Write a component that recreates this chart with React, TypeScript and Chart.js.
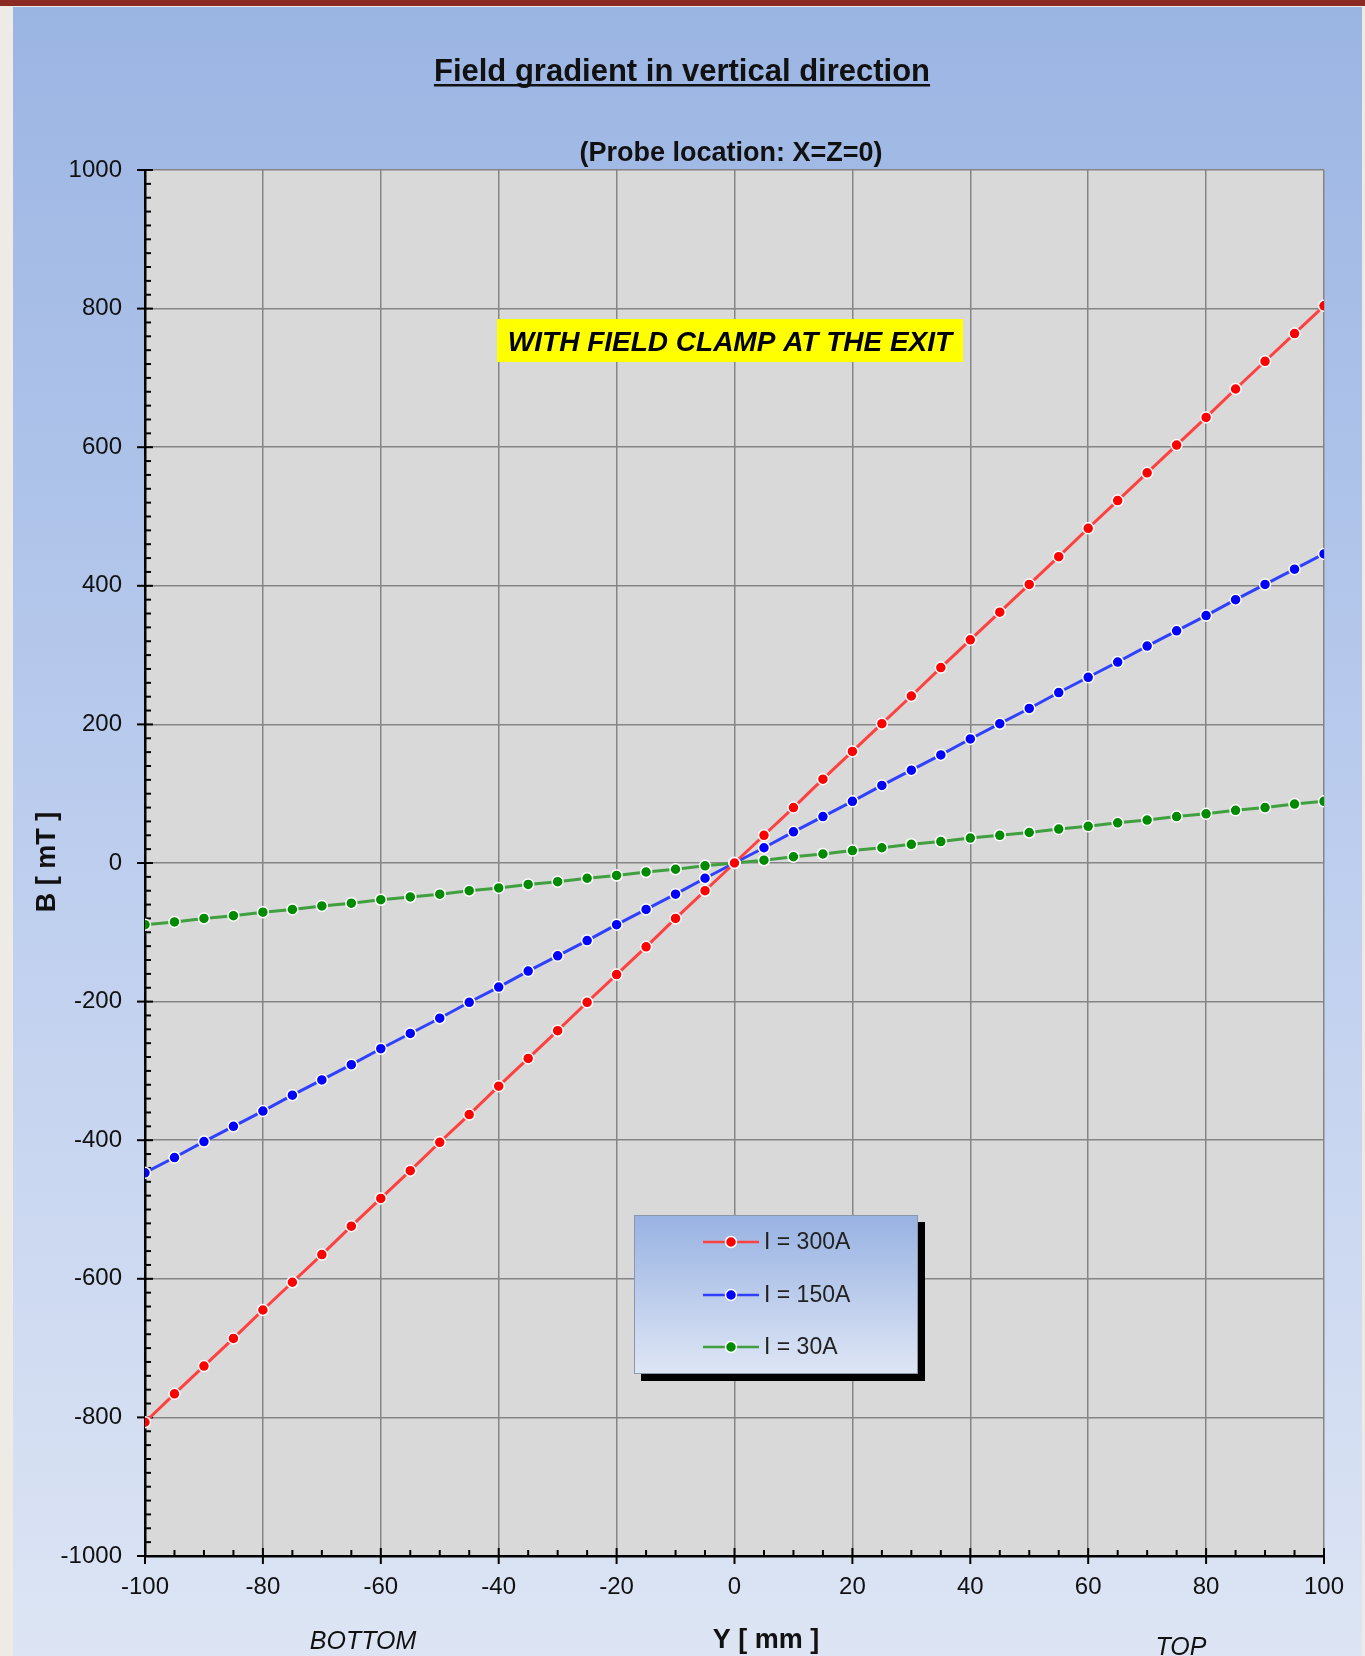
import React, { useEffect, useRef } from "react";
import { Chart, registerables } from "chart.js";

Chart.register(...registerables);

// ---- Data ----
const positionsMm = [
  -100, -95, -90, -85, -80, -75, -70, -65, -60, -55, -50, -45, -40, -35, -30, -25, -20, -15, -10, -5, 0,
  5, 10, 15, 20, 25, 30, 35, 40, 45, 50, 55, 60, 65, 70, 75, 80, 85, 90, 95, 100,
];
const field300A = [
  -807, -766, -726, -686, -645, -605, -565, -524, -484, -444, -403, -363, -322, -282, -242, -201, -161, -121, -80, -40, 0,
  40, 80, 121, 161, 201, 241, 282, 322, 362, 402, 442, 483, 523, 563, 603, 643, 684, 724, 764, 804,
];
const field150A = [
  -447, -425, -402, -380, -358, -335, -313, -291, -268, -246, -224, -201, -179, -156, -134, -112, -89, -67, -45, -22, 0,
  22, 45, 67, 89, 112, 134, 156, 179, 201, 223, 246, 268, 290, 313, 335, 357, 380, 402, 424, 446,
];
const field30A = [
  -89, -85, -80, -76, -71, -67, -62, -58, -53, -49, -45, -40, -36, -31, -27, -22, -18, -13, -9, -4, 0,
  4, 9, 13, 18, 22, 27, 31, 36, 40, 44, 49, 53, 58, 62, 67, 71, 76, 80, 85, 89,
];
const seriesLabels = ["I = 300A", "I = 150A", "I = 30A"];
const lineColors = ["#ff4040", "#3040ff", "#40a040"];
const dotColors = ["#ff0000", "#0000ff", "#008a00"];

const titleText = "Field gradient in vertical direction";
const subtitleText = "(Probe location: X=Z=0)";
const noteText = "WITH FIELD CLAMP AT THE EXIT";
const yAxisTitle = "B [ mT ]";
const xAxisTitle = "Y [ mm ]";
const bottomLabel = "BOTTOM";
const topLabel = "TOP";

const W = 1365;
const H = 1656;
const FONT = '"Liberation Sans", Arial, Helvetica, sans-serif';

const decorPlugin = {
  id: "decor",
  beforeDraw(chart: any) {
    const { ctx, chartArea: a } = chart;
    ctx.save();
    ctx.fillStyle = "#eeebe6";
    ctx.fillRect(0, 0, W, H);
    const g = ctx.createLinearGradient(0, 7, 0, H);
    g.addColorStop(0, "#9bb5e3");
    g.addColorStop(0.5, "#bccdee");
    g.addColorStop(1, "#dde5f4");
    ctx.fillStyle = g;
    ctx.fillRect(13, 7, 1362 - 13, H - 7);
    ctx.fillStyle = "#8b2a22";
    ctx.fillRect(0, 0, W, 6);
    ctx.fillStyle = "#d9d9d9";
    ctx.fillRect(a.left, a.top, a.right - a.left, a.bottom - a.top);
    ctx.restore();
  },
  beforeDatasetsDraw(chart: any) {
    const { ctx, chartArea: a, scales } = chart;
    const xs = scales.x;
    const ys = scales.y;
    ctx.save();
    ctx.strokeStyle = "#000";
    ctx.lineWidth = 2;
    for (let v = xs.min; v <= xs.max + 1e-9; v += 5) {
      const px = xs.getPixelForValue(v);
      const major = Math.abs(v % 20) < 1e-9;
      ctx.beginPath();
      if (major) {
        ctx.moveTo(px, a.bottom - 8);
        ctx.lineTo(px, a.bottom + 8);
      } else {
        ctx.moveTo(px, a.bottom - 6);
        ctx.lineTo(px, a.bottom);
      }
      ctx.stroke();
    }
    for (let v = ys.min; v <= ys.max + 1e-9; v += 20) {
      const py = ys.getPixelForValue(v);
      const major = Math.abs(v % 200) < 1e-9;
      ctx.beginPath();
      if (major) {
        ctx.moveTo(a.left - 8, py);
        ctx.lineTo(a.left + 8, py);
      } else {
        ctx.moveTo(a.left, py);
        ctx.lineTo(a.left + 6, py);
      }
      ctx.stroke();
    }
    ctx.restore();
  },
  afterDraw(chart: any) {
    const { ctx } = chart;
    ctx.save();
    ctx.fillStyle = "#111";
    ctx.font = `bold 31px ${FONT}`;
    ctx.textAlign = "center";
    ctx.textBaseline = "alphabetic";
    ctx.fillText(titleText, 682, 81);
    const tw = ctx.measureText(titleText).width;
    ctx.fillRect(682 - tw / 2, 84, tw, 2.5);
    ctx.font = `bold 27px ${FONT}`;
    ctx.fillText(subtitleText, 731, 161);

    ctx.fillStyle = "#ffff00";
    ctx.fillRect(497, 319, 466, 43);
    ctx.fillStyle = "#000";
    ctx.font = `italic bold 28px ${FONT}`;
    ctx.fillText(noteText, 730, 351);

    ctx.fillStyle = "#111";
    ctx.font = `bold 27px ${FONT}`;
    ctx.fillText(xAxisTitle, 766, 1648);
    ctx.save();
    ctx.translate(48, 862);
    ctx.rotate(-Math.PI / 2);
    ctx.textBaseline = "middle";
    ctx.fillText(yAxisTitle, 0, 0);
    ctx.restore();
    ctx.font = `italic 25px ${FONT}`;
    ctx.fillText(bottomLabel, 363, 1649);
    ctx.fillText(topLabel, 1181, 1655);

    const lx = 634, ly = 1215, lw = 284, lh = 159;
    ctx.fillStyle = "#000";
    ctx.fillRect(lx + 7, ly + 7, lw, lh);
    const lg = ctx.createLinearGradient(0, ly, 0, ly + lh);
    lg.addColorStop(0, "#98b2e2");
    lg.addColorStop(1, "#dee6f5");
    ctx.fillStyle = lg;
    ctx.fillRect(lx, ly, lw, lh);
    ctx.strokeStyle = "#8c96aa";
    ctx.lineWidth = 1;
    ctx.strokeRect(lx + 0.5, ly + 0.5, lw - 1, lh - 1);
    const rows = [1242, 1295, 1347];
    chart.data.datasets.forEach((ds: any, i: number) => {
      const y = rows[i];
      ctx.strokeStyle = ds.borderColor;
      ctx.lineWidth = 2.5;
      ctx.beginPath();
      ctx.moveTo(703, y);
      ctx.lineTo(759, y);
      ctx.stroke();
      ctx.beginPath();
      ctx.arc(731, y, 5.5, 0, Math.PI * 2);
      ctx.fillStyle = ds.pointBackgroundColor;
      ctx.fill();
      ctx.strokeStyle = "#fff";
      ctx.lineWidth = 1.5;
      ctx.stroke();
      ctx.fillStyle = "#222";
      ctx.font = `23px ${FONT}`;
      ctx.textAlign = "left";
      ctx.textBaseline = "middle";
      ctx.fillText(ds.label, 764, y + 1);
    });
    ctx.restore();
  },
};

export default function App() {
  const canvasRef = useRef<HTMLCanvasElement | null>(null);

  useEffect(() => {
    if (!canvasRef.current) return;
    const series = [field300A, field150A, field30A];
    const chart = new Chart(canvasRef.current, {
      type: "line",
      data: {
        datasets: series.map((vals, i) => ({
          label: seriesLabels[i],
          data: positionsMm.map((x, j) => ({ x, y: vals[j] })),
          borderColor: lineColors[i],
          backgroundColor: dotColors[i],
          pointBackgroundColor: dotColors[i],
          pointBorderColor: "#ffffff",
          pointBorderWidth: 1.5,
          pointRadius: 5.5,
          borderWidth: 3,
          tension: 0,
          fill: false,
        })),
      },
      options: {
        animation: false,
        responsive: false,
        devicePixelRatio: 1,
        layout: { padding: { left: 0, top: 170, right: 41, bottom: 0 } },
        plugins: {
          legend: { display: false },
          title: { display: false },
          tooltip: { enabled: false },
        },
        scales: {
          x: {
            type: "linear",
            min: -100,
            max: 100,
            afterFit: (s: any) => {
              s.height = 100;
            },
            ticks: {
              stepSize: 20,
              padding: 17,
              color: "#111",
              font: { family: FONT, size: 24 },
              maxRotation: 0,
              callback: (v: any) => String(v),
            },
            grid: { color: "#858585", lineWidth: 1.5, drawTicks: false },
            border: { display: true, color: "#000", width: 2.5 },
          },
          y: {
            type: "linear",
            min: -1000,
            max: 1000,
            afterFit: (s: any) => {
              s.width = 145;
            },
            ticks: {
              stepSize: 200,
              padding: 23,
              color: "#111",
              font: { family: FONT, size: 24 },
              callback: (v: any) => String(v),
            },
            grid: { color: "#858585", lineWidth: 1.5, drawTicks: false },
            border: { display: true, color: "#000", width: 2.5 },
          },
        },
      },
      plugins: [decorPlugin],
    } as any);
    return () => chart.destroy();
  }, []);

  return (
    <div style={{ position: "absolute", left: 0, top: 0, width: W, height: H }}>
      <canvas ref={canvasRef} width={W} height={H} style={{ width: W, height: H, display: "block" }} />
    </div>
  );
}
